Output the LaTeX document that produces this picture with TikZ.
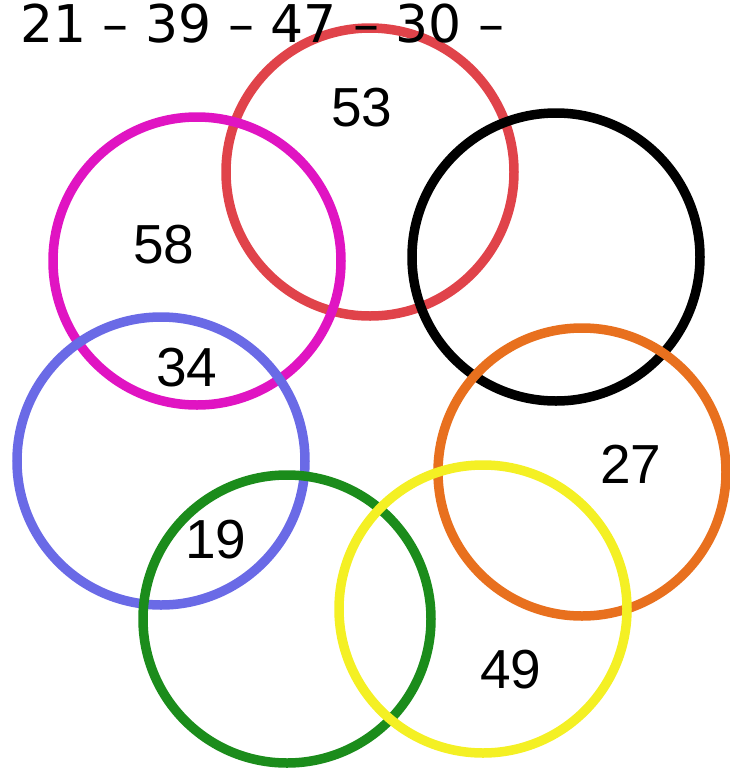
\documentclass[tikz,border=0pt]{standalone}
\usepackage{fontspec}
\setmainfont{Liberation Sans}
\newfontfamily\seqfont{DejaVu Sans}
\usetikzlibrary{positioning}
\definecolor{ringred}{HTML}{E0434A}
\definecolor{ringmagenta}{HTML}{E014C2}
\definecolor{ringblack}{HTML}{000000}
\definecolor{ringblue}{HTML}{6A6AE6}
\definecolor{ringorange}{HTML}{E8701E}
\definecolor{ringgreen}{HTML}{1B8C1B}
\definecolor{ringyellow}{HTML}{F4F024}

\begin{document}
\begin{tikzpicture}[
  x=1pt,y=-1pt,
  ring/.style={draw=#1,circle,line width=9.5pt,minimum size=288pt,inner sep=0pt},
  num/.style={font=\fontsize{55}{55}\selectfont,inner sep=0pt},
  seq/.style={font=\seqfont\fontsize{52}{52}\selectfont,inner sep=0pt}
]
\useasboundingbox (0,0) rectangle (730,769);
% the seven rings
\node[ring=ringred] (red) at (370,172) {};
\node[ring=ringmagenta] (magenta) at (197,261) {};
\node[ring=ringblack] (black) at (556,257) {};
\node[ring=ringorange] (orange) at (582,472) {};
\node[ring=ringblue] (blue) at (161,461) {};
\node[ring=ringgreen] (green) at (287,619) {};
\node[ring=ringyellow] (yellow) at (483,609) {};
% numbers inside
\node[num] (n53) at (362,108) {53};
\node[num] (n58) at (164,245) {58};
\node[num] (n34) at (187,368) {34};
\node[num] (n27) at (631,464) {27};
\node[num] (n19) at (216,540) {19};
\node[num] (n49) at (511,670) {49};
% sequence on top
\node[seq,anchor=base west] (row) at (20,42) {21 – 39 – 47 – 30 –};
\end{tikzpicture}
\end{document}
